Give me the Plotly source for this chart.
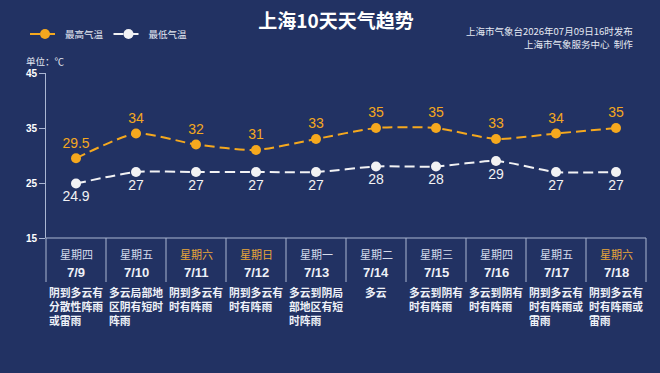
import plotly.graph_objects as go

dates = ["7/9", "7/10", "7/11", "7/12", "7/13", "7/14", "7/15", "7/16", "7/17", "7/18"]
weekdays = ["星期四", "星期五", "星期六", "星期日", "星期一", "星期二", "星期三", "星期四", "星期五", "星期六"]
high = [29.5, 34, 32, 31, 33, 35, 35, 33, 34, 35]
low = [24.9, 27, 27, 27, 27, 28, 28, 29, 27, 27]
weather = [
    "阴到多云有<br>分散性阵雨<br>或雷雨",
    "多云局部地<br>区阴有短时<br>阵雨",
    "阴到多云有<br>时有阵雨",
    "阴到多云有<br>时有阵雨",
    "多云到阴局<br>部地区有短<br>时阵雨",
    "多云",
    "多云到阴有<br>时有阵雨",
    "多云到阴有<br>时有阵雨",
    "阴到多云有<br>时有阵雨或<br>雷雨",
    "阴到多云有<br>时有阵雨或<br>雷雨",
]
y_ticks = [15, 25, 35, 45]

BG = "#223263"
ORANGE = "#f5a81e"
WHITE = "#f2f2f4"
LINE = "#aab6d2"
FONT = "Noto Sans CJK SC"

W, H = 660, 373
L, R, T, B = 46, 14, 73, 135
PH = H - T - B


def py(p):
    return (H - B - p) / PH


x = list(range(len(dates)))
fig = go.Figure()
fig.add_trace(go.Scatter(
    x=x, y=high, name="最高气温", mode="lines+markers+text",
    line=dict(color=ORANGE, width=2, dash="10px,5px", shape="spline", smoothing=0.6),
    marker=dict(size=10, color=ORANGE),
    text=[f"{v:g}" for v in high], textposition="top center",
    textfont=dict(color=ORANGE, size=14, family="Liberation Sans"),
    cliponaxis=False,
))
fig.add_trace(go.Scatter(
    x=x, y=low, name="最低气温", mode="lines+markers+text",
    line=dict(color=WHITE, width=2, dash="10px,5px", shape="spline", smoothing=0.6),
    marker=dict(size=10, color=WHITE),
    text=[f"{v:g}" for v in low], textposition="bottom center",
    textfont=dict(color=WHITE, size=14, family="Liberation Sans"),
    cliponaxis=False,
))

shapes = []
for k in range(len(dates) + 1):
    shapes.append(dict(type="line", xref="paper", yref="paper", x0=k / 10, x1=k / 10,
                       y0=0, y1=py(282), line=dict(color=LINE, width=1)))
shapes.append(dict(type="line", xref="paper", yref="paper", x0=0, x1=1, y0=0, y1=0,
                   line=dict(color=LINE, width=1)))

ann = []
for i in x:
    wc = "#e8a53a" if weekdays[i] in ("星期六", "星期日") else "#d6dceb"
    ann.append(dict(x=i, y=py(254), xref="x", yref="paper", text=weekdays[i], showarrow=False,
                    font=dict(size=11, color=wc, family=FONT), yanchor="middle"))
    ann.append(dict(x=i, y=py(272), xref="x", yref="paper", text=dates[i], showarrow=False,
                    font=dict(size=13, color="#eef1f8", family="Liberation Sans", weight="bold"),
                    yanchor="middle"))
    ann.append(dict(x=i, y=py(283), xref="x", yref="paper", text=weather[i], showarrow=False,
                    font=dict(size=10.8, color="#eef1f8", family=FONT, weight="bold"),
                    yanchor="top", align="left", borderpad=0))

ann.append(dict(x=(635 - L) / 600, y=py(31), xref="paper", yref="paper",
                text="上海市气象台2026年07月09日16时发布", showarrow=False, xanchor="right",
                yanchor="middle", font=dict(size=9.5, color="#e4e8f2", family=FONT)))
ann.append(dict(x=(635 - L) / 600, y=py(44), xref="paper", yref="paper",
                text="上海市气象服务中心  制作", showarrow=False, xanchor="right",
                yanchor="middle", font=dict(size=9.5, color="#e4e8f2", family=FONT)))
ann.append(dict(x=(24 - L) / 600, y=py(61), xref="paper", yref="paper",
                text="单位：℃", showarrow=False, xanchor="left", yanchor="middle",
                font=dict(size=9.5, color="#e4e8f2", family=FONT)))

fig.update_layout(
    width=W, height=H,
    margin=dict(l=L, r=R, t=T, b=B),
    paper_bgcolor=BG, plot_bgcolor=BG,
    title=dict(text="上海10天天气趋势", x=336 / W, xanchor="center", y=1 - 21 / H, yanchor="middle",
               font=dict(size=19, color="white", family=FONT, weight="bold")),
    showlegend=True,
    legend=dict(orientation="h", x=(25 - L) / 600, xanchor="left", y=py(34), yanchor="middle",
                font=dict(size=9.5, color="#e4e8f2", family=FONT), bgcolor="rgba(0,0,0,0)",
                itemwidth=30),
    xaxis=dict(range=[-0.5, 9.5], showticklabels=False, showgrid=False, zeroline=False,
               showline=False, fixedrange=True),
    yaxis=dict(range=[15, 45], tickvals=y_ticks, showgrid=False, zeroline=False,
               showline=True, linecolor=LINE, linewidth=1, ticks="outside", ticklen=6,
               tickcolor=LINE, tickfont=dict(size=10, color="white", family="Liberation Sans",
                                             weight="bold")),
    shapes=shapes,
    annotations=ann,
)

fig.write_html("out.html")
